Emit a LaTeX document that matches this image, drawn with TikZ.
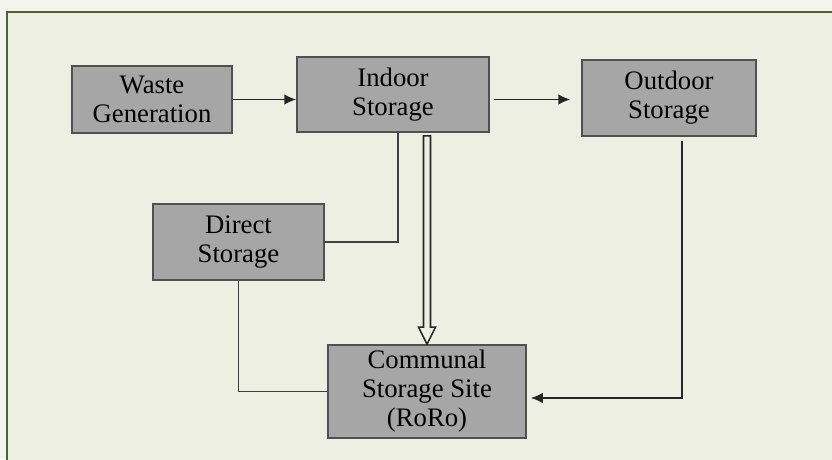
\documentclass[tikz,border=0pt]{standalone}
\usepackage{fontspec}
\setmainfont{Liberation Serif}
\usetikzlibrary{calc,arrows.meta}
\definecolor{fondclair}{RGB}{243,244,238}
\definecolor{fond}{RGB}{237,239,226}
\definecolor{cadre}{RGB}{79,98,45}
\definecolor{gris}{RGB}{166,166,166}
\definecolor{bord}{RGB}{80,80,80}
\begin{document}
\begin{tikzpicture}[x=0.025cm,y=-0.025cm]
% Styles
\tikzstyle{boite}=[draw=bord,fill=gris,line width=1.1pt,align=center,inner sep=0pt,font=\fontsize{19}{20.6}\selectfont]
\tikzstyle{fleche}=[->,>={Latex[length=8.5pt,width=7.5pt]},line width=1.1pt,draw=black!85]
\tikzstyle{trait}=[line width=1.1pt,draw=black!75]
\tikzstyle{creux}=[line width=1.1pt,draw=black!85,fill=fond,line join=miter]
% Fond
\useasboundingbox (0,0) rectangle (832,459);
\clip (0,0) rectangle (832,459);
\fill[fondclair] (0,0) rectangle (832,459);
\draw[cadre,fill=fond,line width=2pt] (7,12) rectangle (850,480);
% Noeuds
\node[boite,minimum width=4cm,minimum height=1.675cm] (G) at (152,99.5) {Waste\\Generation};
\node[boite,minimum width=4.8cm,minimum height=1.875cm] (I) at (393,94.5) {Indoor\\Storage};
\node[boite,minimum width=4.35cm,minimum height=1.9cm] (O) at (669,98) {Outdoor\\Storage};
\node[boite,minimum width=4.275cm,minimum height=1.9cm] (D) at (238.5,242) {Direct\\Storage};
\node[boite,minimum width=4.95cm,minimum height=2.325cm] (C) at (427,391.5) {Communal\\Storage Site\\(RoRo)};
\coordinate (Haut) at ($(C.north |- I.south)+(0,3)$);
% Arcs
\draw[fleche] (G.east)--(G.east -| I.west);
\draw[fleche,shorten <=2.8pt,shorten >=7.8pt] (I.east |- G.east)--(O.west |- G.east);
\draw[trait] ($(I.south)+(5,0)$) |- (D.east);
\draw[trait] (D.south) |- (C.west);
\draw[fleche] ($(O.south)+(13,4)$) |- ($(C.east)+(4,6.5)$);
\draw[creux] (C.north) -- ++(-8.5,-17) -- ++(5,0) -- ($(Haut)+(-3.5,0)$) -- ++(7,0) -- ($(C.north)+(3.5,-17)$) -- ++(5,0) -- cycle;
\end{tikzpicture}
\end{document}
